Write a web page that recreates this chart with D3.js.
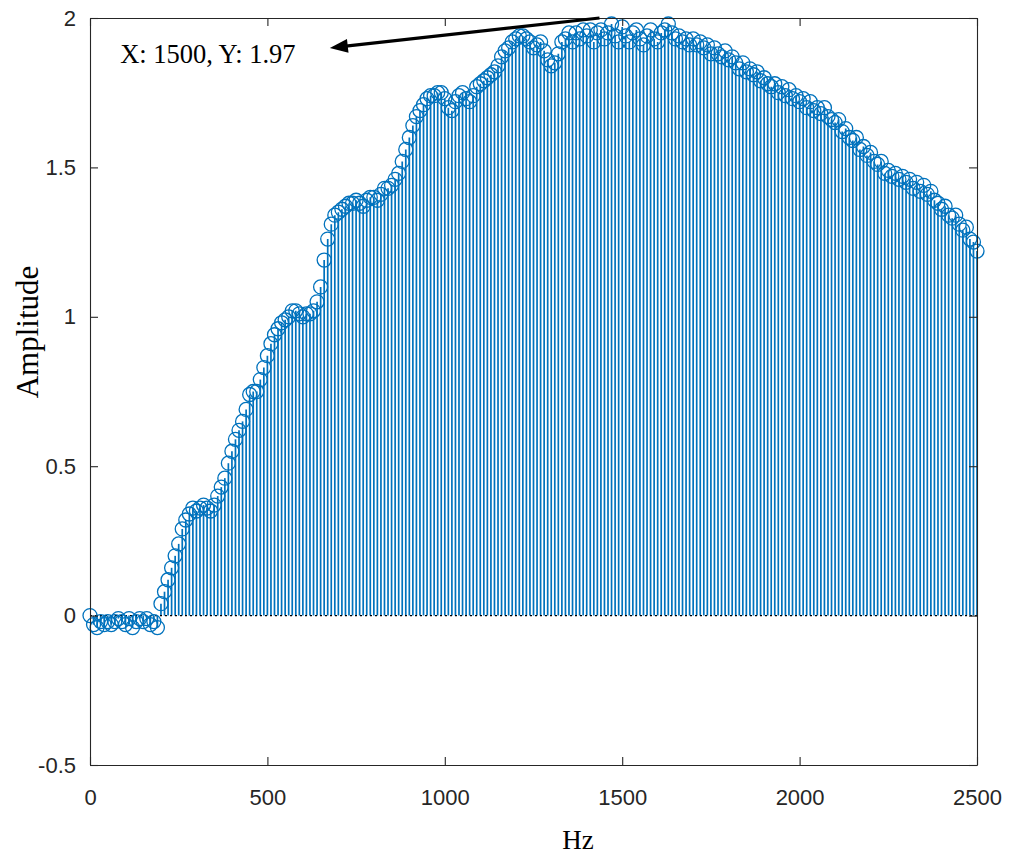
<!DOCTYPE html>
<html>
<head>
<meta charset="utf-8">
<script src="https://cdn.jsdelivr.net/npm/d3@7/dist/d3.min.js"></script>
<style>
  html, body { margin: 0; padding: 0; background: #fff; }
  svg { display: block; }
</style>
</head>
<body>
<svg id="chart" width="1016" height="861"></svg>
<script>
// ---- data ----
const hzStep = 10;
const amplitude = [
  0.00, -0.03, -0.04, -0.02, -0.03, -0.02, -0.03, -0.02, -0.01, -0.02,
  -0.03, -0.01, -0.04, -0.02, -0.01, -0.02, -0.01, -0.03, -0.02, -0.04,
  0.04, 0.08, 0.12, 0.16, 0.20, 0.24, 0.29, 0.32, 0.34, 0.36,
  0.35, 0.36, 0.37, 0.36, 0.35, 0.37, 0.40, 0.43, 0.46, 0.51,
  0.55, 0.59, 0.62, 0.65, 0.69, 0.74, 0.75, 0.75, 0.79, 0.83,
  0.87, 0.91, 0.94, 0.96, 0.98, 0.99, 1.00, 1.02, 1.02, 1.01,
  1.00, 1.01, 1.01, 1.02, 1.05, 1.10, 1.19, 1.26, 1.31, 1.34,
  1.35, 1.36, 1.37, 1.38, 1.38, 1.39, 1.38, 1.37, 1.39, 1.40,
  1.40, 1.39, 1.41, 1.43, 1.43, 1.44, 1.46, 1.48, 1.52, 1.56,
  1.60, 1.64, 1.67, 1.69, 1.71, 1.73, 1.74, 1.74, 1.75, 1.75,
  1.73, 1.70, 1.69, 1.72, 1.74, 1.75, 1.73, 1.72, 1.74, 1.77,
  1.78, 1.79, 1.80, 1.81, 1.82, 1.84, 1.87, 1.89, 1.90, 1.92,
  1.93, 1.94, 1.94, 1.93, 1.92, 1.90, 1.91, 1.92, 1.89, 1.86,
  1.84, 1.85, 1.88, 1.92, 1.93, 1.95, 1.92, 1.95, 1.93, 1.96,
  1.94, 1.96, 1.92, 1.95, 1.96, 1.93, 1.95, 1.98, 1.94, 1.92,
  1.97, 1.94, 1.92, 1.95, 1.96, 1.93, 1.91, 1.94, 1.96, 1.93,
  1.92, 1.95, 1.96, 1.98, 1.95, 1.93, 1.94, 1.92, 1.93, 1.91,
  1.93, 1.91, 1.92, 1.90, 1.91, 1.88, 1.90, 1.88, 1.87, 1.89,
  1.86, 1.87, 1.85, 1.83, 1.85, 1.82, 1.83, 1.81, 1.82, 1.79,
  1.80, 1.78, 1.77, 1.78, 1.75, 1.77, 1.74, 1.76, 1.73, 1.74,
  1.72, 1.73, 1.70, 1.72, 1.69, 1.70, 1.68, 1.70, 1.67, 1.66,
  1.65, 1.66, 1.62, 1.63, 1.60, 1.59, 1.60, 1.56, 1.57, 1.54,
  1.55, 1.52, 1.51, 1.52, 1.48, 1.49, 1.47, 1.48, 1.46, 1.47,
  1.45, 1.46, 1.43, 1.45, 1.42, 1.44, 1.41, 1.42, 1.39, 1.38,
  1.36, 1.37, 1.34, 1.33, 1.34, 1.31, 1.29, 1.30, 1.26, 1.25,
  1.22
];
const xTicks = [0, 500, 1000, 1500, 2000, 2500];
const yTicks = [-0.5, 0, 0.5, 1, 1.5, 2];
const yTickLabels = ["-0.5", "0", "0.5", "1", "1.5", "2"];
const xDomain = [0, 2500];
const yDomain = [-0.5, 2];
const xLabel = "Hz";
const yLabel = "Amplitude";
const tipText = "X: 1500, Y: 1.97";
const tipArrowFrom = [1436, 2.0];
const tipArrowTo = [676, 1.90];
const tipTextAt = [85, 1.85];

const points = amplitude.map((v, i) => ({ hz: i * hzStep, amp: v }));

// ---- layout ----
const svg = d3.select("#chart");
const mLeft = 90, mRight = 977, mTop = 18, mBottom = 765;
const x = d3.scaleLinear().domain(xDomain).range([mLeft, mRight]);
const y = d3.scaleLinear().domain(yDomain).range([mBottom, mTop]);

const blue = "#0072BD";
const axisColor = "#262626";

// stems
svg.append("g").selectAll("line").data(points).join("line")
  .attr("x1", d => x(d.hz)).attr("x2", d => x(d.hz))
  .attr("y1", y(0)).attr("y2", d => y(d.amp))
  .attr("stroke", blue).attr("stroke-width", 1.7);

// baseline
svg.append("line")
  .attr("x1", x(xDomain[0])).attr("x2", x(xDomain[1]))
  .attr("y1", y(0)).attr("y2", y(0))
  .attr("stroke", "#000").attr("stroke-width", 1.2)
  .attr("stroke-dasharray", "2,3");

// markers
svg.append("g").selectAll("circle").data(points).join("circle")
  .attr("cx", d => x(d.hz)).attr("cy", d => y(d.amp))
  .attr("r", 7)
  .attr("fill", "none").attr("stroke", blue).attr("stroke-width", 1.3);

// axes box
const tickLen = 8;
const gx = svg.append("g").attr("transform", `translate(0,${mBottom})`)
  .call(d3.axisBottom(x).tickValues(xTicks).tickSizeInner(-tickLen).tickSizeOuter(0).tickPadding(24)
    .tickFormat(d3.format("d")));
const gxt = svg.append("g").attr("transform", `translate(0,${mTop})`)
  .call(d3.axisTop(x).tickValues(xTicks).tickSizeInner(-tickLen).tickSizeOuter(0).tickFormat(""));
const gy = svg.append("g").attr("transform", `translate(${mLeft},0)`)
  .call(d3.axisLeft(y).tickValues(yTicks).tickSizeInner(-tickLen).tickSizeOuter(0).tickPadding(14)
    .tickFormat((d, i) => yTickLabels[i]));
const gyr = svg.append("g").attr("transform", `translate(${mRight},0)`)
  .call(d3.axisRight(y).tickValues(yTicks).tickSizeInner(-tickLen).tickSizeOuter(0).tickFormat(""));

[gx, gxt, gy, gyr].forEach(g => {
  g.selectAll("path").attr("stroke", axisColor).attr("stroke-width", 1.1);
  g.selectAll("line").attr("stroke", axisColor).attr("stroke-width", 1.1);
  g.selectAll("text")
    .attr("fill", axisColor)
    .style("font-family", "'Liberation Sans', Arial, Helvetica, sans-serif")
    .style("font-size", "22px");
});
gx.selectAll("text").attr("dy", "0.71em");

// axis labels
svg.append("text")
  .attr("x", 578).attr("y", 849)
  .attr("text-anchor", "middle")
  .style("font-family", "'Liberation Serif', 'Times New Roman', serif")
  .style("font-size", "27px").attr("fill", "#000")
  .text(xLabel);
svg.append("text")
  .attr("transform", `translate(38,332) rotate(-90)`)
  .attr("text-anchor", "middle")
  .style("font-family", "'Liberation Serif', 'Times New Roman', serif")
  .style("font-size", "31px").attr("fill", "#000")
  .text(yLabel);

// data tip annotation
const ax0 = x(tipArrowFrom[0]), ay0 = y(tipArrowFrom[1]);
const ax1 = x(tipArrowTo[0]), ay1 = y(tipArrowTo[1]);
const dx = ax1 - ax0, dy = ay1 - ay0, len = Math.hypot(dx, dy);
const ux = dx / len, uy = dy / len;
const headLen = 18, headHalf = 7;
const bx = ax1 - ux * headLen, by = ay1 - uy * headLen;
svg.append("line")
  .attr("x1", ax0).attr("y1", ay0).attr("x2", bx + ux * 2).attr("y2", by + uy * 2)
  .attr("stroke", "#000").attr("stroke-width", 3.2);
svg.append("polygon")
  .attr("points", [
    [ax1, ay1],
    [bx - uy * headHalf, by + ux * headHalf],
    [bx + uy * headHalf, by - ux * headHalf]
  ].map(p => p.join(",")).join(" "))
  .attr("fill", "#000");
svg.append("text")
  .attr("x", x(tipTextAt[0])).attr("y", y(tipTextAt[1]))
  .style("font-family", "'Liberation Serif', 'Times New Roman', serif")
  .style("font-size", "26.5px").attr("fill", "#000")
  .text(tipText);
</script>
</body>
</html>
